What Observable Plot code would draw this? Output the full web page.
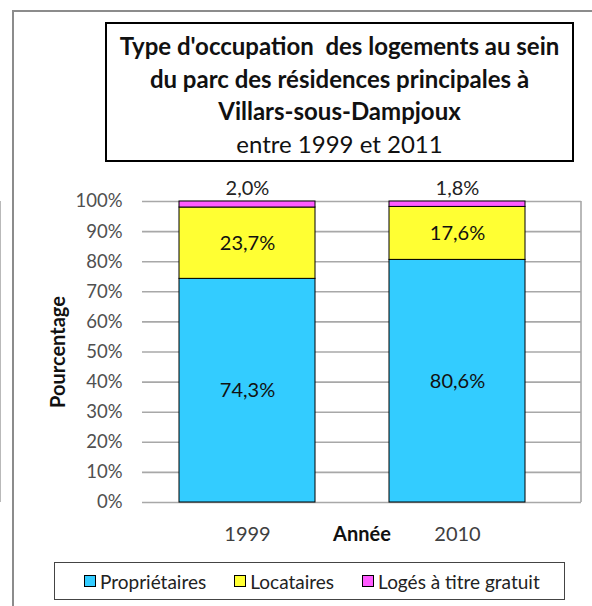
<!DOCTYPE html>
<html>
<head>
<meta charset="utf-8">
<script src="https://cdn.jsdelivr.net/npm/d3@7"></script>
<script src="https://cdn.jsdelivr.net/npm/@observablehq/plot@0.6"></script>
<style>
  html, body { margin: 0; padding: 0; background: #fff; }
  #wrap { position: relative; width: 592px; height: 606px; overflow: hidden; font-family: Lato, "Noto Sans", sans-serif; }
  #hline { position: absolute; z-index: 10; left: 12px; top: 10px; width: 600px; height: 2px; background: #8c8c8c; }
  #vline { position: absolute; z-index: 10; left: 12px; top: 10px; width: 2px; height: 600px; background: #8c8c8c; }
  #title { position: absolute; left: 105px; top: 22px; width: 469px; height: 140px; border: 2px solid #000; box-sizing: border-box; text-align: center; color: #111; font-size: 24px; line-height: 32.5px; padding-top: 6px; }
  #title b { font-weight: bold; }
  #chart { position: absolute; left: 0; top: 170px; }
  #legend { position: absolute; left: 54px; top: 562px; width: 511px; height: 38px; border: 1.5px solid #444; box-sizing: border-box; display: flex; align-items: center; padding-left: 29px; font-size: 19px; color: #222; white-space: nowrap; }
  .item { display: flex; align-items: center; margin-right: 28px; }
  .sw { width: 10px; height: 10px; border: 1.5px solid #000; margin-right: 4px; }
</style>
</head>
<body>
<div id="wrap">
  <div id="title"></div>
  <div id="chart"></div>
  <div id="legend"></div>
  <div id="hline"></div>
  <div id="vline"></div>
</div>
<script>
const years = ["1999", "2010"];
const types = ["Propriétaires", "Locataires", "Logés à titre gratuit"];
const proprietaires = [74.3, 80.6];
const locataires = [23.7, 17.6];
const loges = [2.0, 1.8];
const colors = ["#33ccff", "#ffff33", "#ff5cff"];
const yTicks = [0, 10, 20, 30, 40, 50, 60, 70, 80, 90, 100];
const titleLines = ["Type d'occupation  des logements au sein", "du parc des résidences principales à", "Villars-sous-Dampjoux", "entre 1999 et 2011"];
const xLabel = "Année";
const yLabel = "Pourcentage";

const series = [proprietaires, locataires, loges];
const data = years.flatMap((year, i) => types.map((type, k) => ({year, type, value: series[k][i]})));
const fmt = v => v.toFixed(1).replace(".", ",") + "%";

// Title
document.getElementById("title").innerHTML = titleLines
  .map((l, i) => i < 3 ? `<div><b>${l.replace(/  /g, "&nbsp; ")}</b></div>` : `<div>${l}</div>`).join("");

// Legend
document.getElementById("legend").innerHTML = types
  .map((t, i) => `<div class="item"><div class="sw" style="background:${colors[i]}"></div>${t}</div>`).join("");

const grid = (index, scales, values, dims) => {
  const g = d3.create("svg:g");
  const x = scales.x, bw = x.bandwidth;
  const y0 = dims.marginTop, y1 = dims.height - dims.marginBottom;
  const xs = [(x(years[0]) + bw + x(years[1])) / 2, dims.width - dims.marginRight];
  for (const xv of xs) {
    g.append("line").attr("x1", xv).attr("x2", xv).attr("y1", y0).attr("y2", y1)
      .attr("stroke", "#a8a8a8").attr("stroke-width", 1.6);
  }
  return g.node();
};

const chart = Plot.plot({
  width: 592,
  height: 385,
  marginTop: 31,
  marginBottom: 53,
  marginLeft: 142,
  marginRight: 11,
  style: {fontFamily: "Lato, 'Noto Sans', sans-serif", background: "transparent", overflow: "visible"},
  x: {type: "band", domain: years, paddingInner: 0.3524, paddingOuter: 0.2214, align: 0.398, label: null},
  y: {domain: [0, 100], label: null},
  color: {domain: types, range: colors},
  marks: [
    Plot.ruleY(yTicks, {stroke: "#a8a8a8", strokeWidth: 1.6}),
    grid,
    Plot.barY(data, {x: "year", y: "value", fill: "type", stroke: "#000", strokeWidth: 1}),
    Plot.text(data, Plot.stackY({x: "year", y: "value", z: "type",
      text: d => d.type === types[2] ? null : fmt(d.value), fontSize: 20, fill: "#111"})),
    Plot.text(data, Plot.stackY2({x: "year", y: "value", z: "type",
      text: d => d.type === types[2] ? fmt(d.value) : null, fontSize: 20, fill: "#222", dy: -13})),
    Plot.axisY({ticks: yTicks, tickFormat: d => d + "%", tickSize: 0, tickPadding: 20, fontSize: 18.5, fill: "#505050", label: null}),
    Plot.axisX({tickSize: 0, tickPadding: 24, fontSize: 20, fill: "#404040", label: null}),
    Plot.text([xLabel], {frameAnchor: "bottom", dy: 38, fontWeight: "bold", fontSize: 20, fill: "#111"}),
    Plot.text([yLabel], {frameAnchor: "left", textAnchor: "middle", dx: -84, rotate: -90, fontWeight: "bold", fontSize: 20, fill: "#111"})
  ]
});
document.getElementById("chart").appendChild(chart);
</script>
</body>
</html>
